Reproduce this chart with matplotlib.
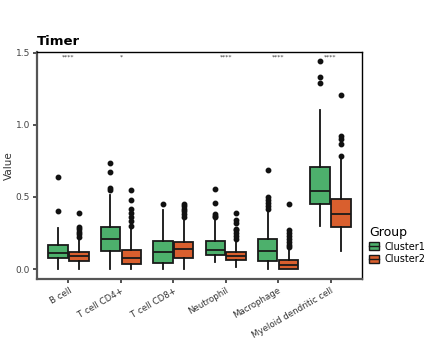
import numpy as np
import matplotlib
matplotlib.use("Agg")
from matplotlib import pyplot as plt
from matplotlib.patches import Patch
from matplotlib.lines import Line2D
from matplotlib.legend_handler import HandlerTuple

cells = ["B cell", "T cell CD4+", "T cell CD8+", "Neutrophil", "Macrophage", "Myeloid dendritic cell"]
groups = ["Cluster1", "Cluster2"]
signif = ["****", "*", "", "****", "****", "****"]

# box stats: whislo, q1, med, q3, whishi
c1_stats = [
    [0.00, 0.080, 0.113, 0.170, 0.287],
    [0.00, 0.125, 0.206, 0.290, 0.514],
    [0.00, 0.044, 0.120, 0.197, 0.410],
    [0.05, 0.097, 0.132, 0.197, 0.340],
    [0.00, 0.058, 0.125, 0.206, 0.400],
    [0.30, 0.449, 0.544, 0.710, 1.100],
]
c2_stats = [
    [0.00, 0.055, 0.090, 0.120, 0.200],
    [0.00, 0.035, 0.080, 0.132, 0.280],
    [0.00, 0.080, 0.137, 0.190, 0.345],
    [0.016, 0.062, 0.090, 0.118, 0.200],
    [0.00, 0.000, 0.028, 0.062, 0.143],
    [0.125, 0.290, 0.382, 0.484, 0.780],
]
c1_fliers = [
    [0.405, 0.637],
    [0.55, 0.56, 0.676, 0.738],
    [0.45],
    [0.36, 0.37, 0.38, 0.456, 0.555],
    [0.42, 0.44, 0.46, 0.48, 0.50, 0.69],
    [1.29, 1.33, 1.44],
]
c2_fliers = [
    [0.22, 0.24, 0.26, 0.28, 0.29, 0.39],
    [0.30, 0.33, 0.36, 0.39, 0.42, 0.48, 0.55],
    [0.36, 0.38, 0.40, 0.42, 0.44, 0.45],
    [0.21, 0.23, 0.25, 0.27, 0.28, 0.32, 0.34, 0.387],
    [0.15, 0.17, 0.19, 0.21, 0.23, 0.25, 0.27, 0.449],
    [0.787, 0.87, 0.90, 0.924, 1.208],
]

colors = ["#4DB06C", "#D95F2E"]


def make_stats(stats, fliers):
    out = []
    for s, f in zip(stats, fliers):
        out.append(dict(whislo=s[0], q1=s[1], med=s[2], q3=s[3], whishi=s[4], fliers=f))
    return out


fig = plt.figure(figsize=(4.27, 3.52), dpi=100)
ax = fig.add_axes([0.0867, 0.207, 0.761, 0.645])

x = np.arange(1, len(cells) + 1)
for i, (stats, fliers) in enumerate([(c1_stats, c1_fliers), (c2_stats, c2_fliers)]):
    pos = x + (-0.2 if i == 0 else 0.2)
    ax.bxp(make_stats(stats, fliers), positions=pos, widths=0.37, patch_artist=True,
           showcaps=False,
           boxprops=dict(facecolor=colors[i], edgecolor="#1a1a1a", linewidth=1.3),
           medianprops=dict(color="#1a1a1a", linewidth=1.3),
           whiskerprops=dict(color="#111111", linewidth=1.3),
           flierprops=dict(marker="o", markerfacecolor="#111111", markeredgecolor="#111111",
                           markersize=3.2))

for xi, s in zip(x, signif):
    if s:
        ax.text(xi, 1.47, s, ha="center", va="center", fontsize=4.5, color="#333333")

ax.set_xlim(0.4, 6.6)
ax.set_ylim(-0.07, 1.505)
ax.set_yticks([0.0, 0.5, 1.0, 1.5])
ax.set_yticklabels(["0.0", "0.5", "1.0", "1.5"], fontsize=6.5, color="#444444")
ax.set_xticks(x)
ax.set_xticklabels(cells, rotation=30, ha="right", rotation_mode="anchor", fontsize=6.2, color="#333333")
ax.tick_params(axis="both", length=3, width=1.2, color="#333333", pad=2)
ax.set_ylabel("Value", fontsize=7.5, color="#333333")
ax.yaxis.set_label_coords(-0.072, 0.5)
ax.set_title("Timer", loc="left", fontsize=9.5, fontweight="bold", pad=5)

for side in ["left", "bottom"]:
    ax.spines[side].set_color("#555555")
    ax.spines[side].set_linewidth(1.6)
for side in ["top", "right"]:
    ax.spines[side].set_color("black")
    ax.spines[side].set_linewidth(1.0)

handles = [(Patch(facecolor=c, edgecolor="#1a1a1a", linewidth=1.0),
            Line2D([], [], color="#1a1a1a", linewidth=1.0)) for c in colors]
leg = fig.legend(handles, groups, title="Group", loc="upper left",
                 bbox_to_anchor=(0.855, 0.37), frameon=False, fontsize=7,
                 title_fontsize=9, handlelength=1.0, handleheight=0.9,
                 handletextpad=0.6, labelspacing=0.3, borderaxespad=0,
                 handler_map={tuple: HandlerTuple(ndivide=1, pad=0)})
leg._legend_box.align = "left"

fig.savefig("out.png", dpi=100)
